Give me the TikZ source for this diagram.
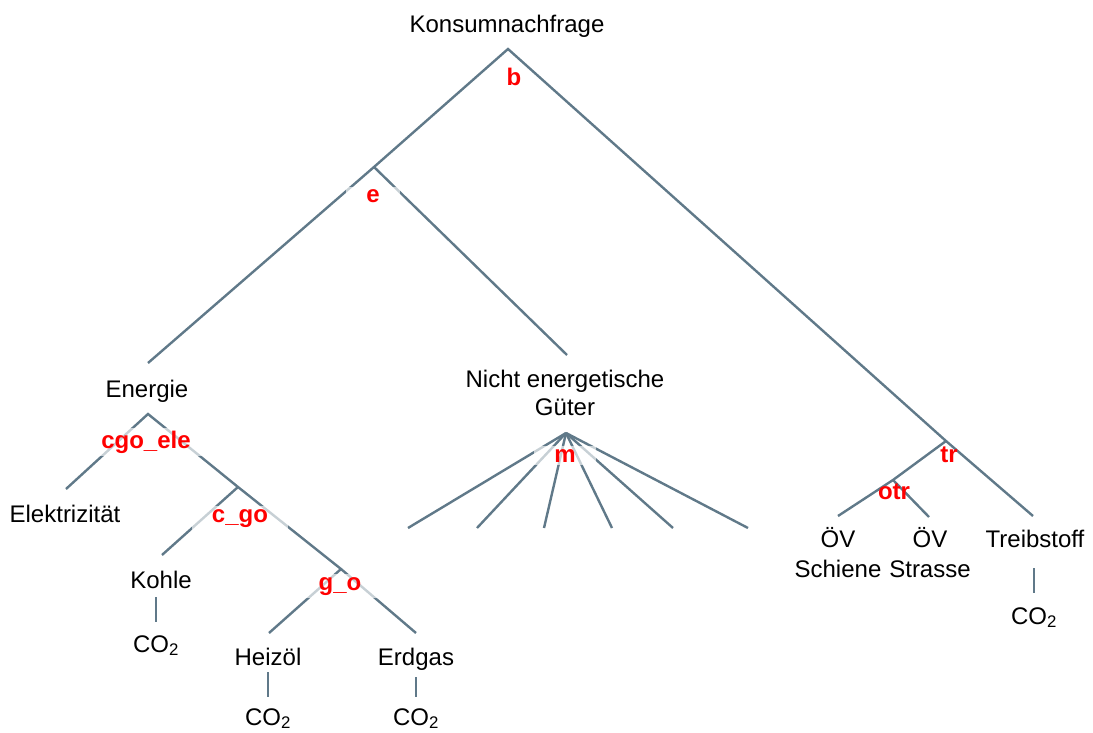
\documentclass[tikz,border=0pt]{standalone}
\usepackage{fontspec}
\setmainfont{Liberation Sans}
\definecolor{branchgray}{RGB}{96,121,137}
\begin{document}
\begin{tikzpicture}[x=1pt,y=-1pt,
    branch/.style={line width=2.4pt, draw=branchgray},
    good/.style={anchor=base, inner sep=3pt, font=\fontsize{24}{27}\selectfont},
    elas/.style={anchor=base, inner sep=1pt, text=red, font=\fontsize{24}{26}\selectfont\bfseries},
    elasbox/.style={elas, fill=white, fill opacity=0.65, text opacity=1, inner xsep=20pt, inner ysep=3pt}]
    \useasboundingbox (0,0) rectangle (1093,733);

    % Junctions of the nesting tree
    \coordinate (bJ) at (508,49);
    \coordinate (eJ) at (374,167);
    \coordinate (trJ) at (946,441);
    \coordinate (otrJ) at (893,480);
    \coordinate (mJ) at (566,433);
    \coordinate (cgoeleJ) at (148,414);
    \coordinate (cgoJ) at (238,487);
    \coordinate (goJ) at (341,569);

    % Branch ends
    \coordinate (energieEnd) at (148,363);
    \coordinate (nichtEnd) at (567,355);
    \coordinate (treibEnd) at (1033,516);
    \coordinate (schieneEnd) at (838,516);
    \coordinate (strasseEnd) at (929,517);
    \coordinate (elekEnd) at (66,489);
    \coordinate (kohleEnd) at (162,555);
    \coordinate (heizEnd) at (269,633);
    \coordinate (erdgasEnd) at (416,633);

    % Top level
    \draw[branch] (energieEnd) -- (eJ) -- (bJ) -- (trJ) -- (treibEnd);
    \draw[branch] (eJ) -- (nichtEnd);

    % Transport
    \draw[branch] (trJ) -- (otrJ) -- (schieneEnd);
    \draw[branch] (otrJ) -- (strasseEnd);

    % Energy
    \draw[branch] (elekEnd) -- (cgoeleJ) -- (cgoJ) -- (goJ) -- (erdgasEnd);
    \draw[branch] (cgoJ) -- (kohleEnd);
    \draw[branch] (goJ) -- (heizEnd);

    % Non-energy goods fan
    \foreach \xend [count=\i] in {408,477,544,612,673,748}
        \draw[branch] (mJ) -- (\xend,528) coordinate (mEnd\i);

    % Goods
    \node[good] (konsum) at (507,33) {Konsumnachfrage};
    \node[good] (energie) at (147,397) {Energie};
    \node[good] (nicht) at (565,387) {Nicht energetische};
    \node[good] (gueter) at (565,415) {Güter};
    \node[good] (elek) at (65,522) {Elektrizität};
    \node[good] (kohle) at (161,588) {Kohle};
    \node[good] (heiz) at (268,665) {Heizöl};
    \node[good] (erdgas) at (416,665) {Erdgas};
    \node[good] (oevS) at (838,547) {ÖV};
    \node[good] (schiene) at (838,577) {Schiene};
    \node[good] (oevR) at (930,547) {ÖV};
    \node[good] (strasse) at (930,577) {Strasse};
    \node[good] (treib) at (1035,547) {Treibstoff};

    % Emissions
    \node[good] (kohleCO) at (156,652) {CO\textsubscript{2}};
    \node[good] (heizCO) at (268,725) {CO\textsubscript{2}};
    \node[good] (erdgasCO) at (416,725) {CO\textsubscript{2}};
    \node[good] (treibCO) at (1034,624) {CO\textsubscript{2}};
    \draw[branch, shorten <=6pt, shorten >=10pt] (kohleCO.north |- kohle.south) -- (kohleCO.north);
    \draw[branch, shorten <=4pt, shorten >=8pt] (heizCO.north |- heiz.south) -- (heizCO.north);
    \draw[branch, shorten <=4pt, shorten >=8pt] (erdgasCO.north |- erdgas.south) -- (erdgasCO.north);
    \draw[branch, shorten <=18pt, shorten >=11pt] (treibCO.north |- treib.south) -- (treibCO.north);

    % Substitution elasticities
    \node[elas] (b) at (514,86) {b};
    \node[elasbox] (e) at (373,203) {e};
    \node[elasbox] (m) at (565,462) {m};
    \node[elasbox] (cgoele) at (146,448) {cgo\_ele};
    \node[elasbox] (cgo) at (240,522) {c\_go};
    \node[elasbox] (go) at (340,590) {g\_o};
    \node[elas] (tr) at (949,462) {tr};
    \node[elas] (otr) at (894,499) {otr};
\end{tikzpicture}
\end{document}
